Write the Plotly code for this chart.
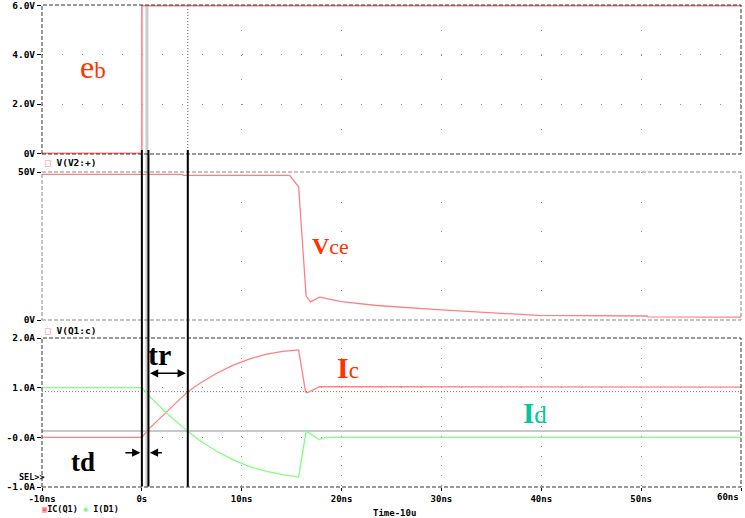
import plotly.graph_objects as go

# ---------------- data (time in ns) ----------------
t_eb = [-10, 0, 0, 60]
v_eb = [0, 0, 6, 6]

t_vce = [-10, 4.0, 4.2, 14.8, 15.7, 16.45, 16.9, 17.8, 20, 23.5, 30, 39.7, 50.6, 50.7, 60]
v_vce = [49.2, 49.2, 48.85, 48.85, 45.0, 8.1, 6.1, 7.7, 6.2, 4.9, 3.4, 1.55, 1.35, 1.05, 1.0]

t_ic = [-10, 0, 0.6, 2.4, 4.6, 5.75, 7.4, 9.1, 10.8, 12.4, 14.1, 15.7, 16.4, 16.6, 17.8, 60]
i_c = [0, 0, 0.15, 0.50, 0.92, 1.08, 1.28, 1.45, 1.58, 1.67, 1.73, 1.76, 0.91, 0.90, 1.02, 1.01]

t_id = [-10, 0, 0.6, 2.4, 4.6, 5.75, 7.4, 9.1, 10.8, 12.4, 14.1, 15.7, 16.45, 17.7, 18.5, 60]
i_d = [1.0, 1.0, 0.86, 0.50, 0.12, -0.06, -0.27, -0.45, -0.59, -0.68, -0.75, -0.80, 0.13, -0.04, 0.0, 0.0]

x_ticks = [-10, 0, 10, 20, 30, 40, 50, 60]
x_ticktext = ["-10ns", "0s", "10ns", "20ns", "30ns", "40ns", "50ns", ""]
x_last_label = "60ns"
eb_ticks = [0, 2, 4, 6]
eb_ticktext = ["0V", "2.0V", "4.0V", "6.0V"]
vce_ticks = [0, 50]
vce_ticktext = ["0V", "50V"]
i_ticks = [-1, 0, 1, 2]
i_ticktext = ["-1.0A", "-0.0A", "1.0A", "2.0A"]

# cursor / annotation times and levels
cursor1_t = 0.51
cursor2_t = 4.6
cursor1_i = 0.13
cursor2_i = 0.92
mark_t = [0.0, 0.66, 4.6]

# ---------------- layout helpers ----------------
W, H = 745, 518
ML, MR, MT, MB = 42, 4, 5, 31
PW, PH = W - ML - MR, H - MT - MB


def px(x):
    return (x - ML) / PW


def py(y):
    return (H - MB - y) / PH


RED = "#ff8080"
GREEN = "#80ff80"
TXTRED = "#ff3300"
TXTGREEN = "#00c896"
MONO = dict(family="DejaVu Sans Mono", size=9.5, color="#000000", weight="bold")
MONOX = dict(family="DejaVu Sans Mono", size=9, color="#000000", weight="bold")
SERIF = "Liberation Serif"

fig = go.Figure()
fig.add_trace(go.Scatter(x=t_ic, y=i_c, mode="lines", line=dict(color=RED, width=1.3),
                         xaxis="x", yaxis="y", showlegend=False, hoverinfo="skip"))
fig.add_trace(go.Scatter(x=t_id, y=i_d, mode="lines", line=dict(color=GREEN, width=1.3),
                         xaxis="x", yaxis="y", showlegend=False, hoverinfo="skip"))
fig.add_trace(go.Scatter(x=t_vce, y=v_vce, mode="lines", line=dict(color=RED, width=1.3),
                         xaxis="x2", yaxis="y2", showlegend=False, hoverinfo="skip"))
fig.add_trace(go.Scatter(x=t_eb, y=v_eb, mode="lines", line=dict(color=RED, width=1.6),
                         xaxis="x3", yaxis="y3", showlegend=False, hoverinfo="skip"))

d3 = [0, py(338)]
d2 = [py(320), py(172)]
d1 = [py(154), 1.0]

xcommon = dict(range=[-10, 60], domain=[0, 1], zeroline=False, showline=False,
               tickvals=x_ticks, gridcolor="#909090", gridwidth=1, automargin=False)
ycommon = dict(zeroline=False, showline=False, ticks="outside", ticklen=4, automargin=False,
               tickcolor="#000000", tickfont=MONO, gridcolor="#909090", gridwidth=1)

fig.update_layout(
    width=W, height=H,
    margin=dict(l=ML, r=MR, t=MT, b=MB, pad=0),
    paper_bgcolor="white", plot_bgcolor="white",
    showlegend=False, hovermode=False,
    xaxis=dict(**xcommon, anchor="y", ticktext=x_ticktext, ticks="outside", ticklen=3,
               tickcolor="#000000", tickfont=MONOX,
               showgrid=True, griddash="1px,8.8px"),
    xaxis2=dict(**xcommon, anchor="y2", matches="x", showticklabels=False,
                showgrid=True, griddash="1px,28.6px"),
    xaxis3=dict(**xcommon, anchor="y3", matches="x", showticklabels=False,
                showgrid=True, griddash="1px,23.8px"),
    yaxis=dict(**ycommon, domain=d3, range=[-1, 2], tickvals=i_ticks, ticktext=i_ticktext,
               showgrid=True, griddash="1px,18.95px"),
    yaxis2=dict(**ycommon, domain=d2, range=[0, 50], tickvals=vce_ticks, ticktext=vce_ticktext,
                showgrid=False),
    yaxis3=dict(**ycommon, domain=d1, range=[-0.03, 6.03], tickvals=eb_ticks,
                ticktext=eb_ticktext, showgrid=True, griddash="1px,18.95px"),
)

shapes = []
# cursors (behind)
shapes.append(dict(type="line", xref="x", yref="paper", x0=cursor1_t, x1=cursor1_t, y0=0, y1=1,
                   line=dict(color="#cccccc", width=3), layer="below"))
shapes.append(dict(type="line", xref="x", yref="paper", x0=cursor2_t, x1=cursor2_t, y0=0, y1=1,
                   line=dict(color="#606060", width=1, dash="1px,2px"), layer="below"))
shapes.append(dict(type="line", xref="paper", yref="y", x0=0, x1=1, y0=cursor1_i, y1=cursor1_i,
                   line=dict(color="#c8c8c8", width=2), layer="below"))
shapes.append(dict(type="line", xref="paper", yref="y", x0=0, x1=1, y0=cursor2_i, y1=cursor2_i,
                   line=dict(color="#707070", width=1, dash="1px,2px"), layer="below"))
# panel borders
for (y0, y1), col in ((d1, "#333333"), (d2, "#888888"), (d3, "#333333")):
    shapes.append(dict(type="rect", xref="paper", yref="paper", x0=0, x1=1, y0=y0, y1=y1,
                       line=dict(color=col, width=1, dash="4px,2px"), layer="above"))
# black marker lines
for t in mark_t:
    shapes.append(dict(type="line", xref="x", yref="paper", x0=t, x1=t, y0=py(486.5), y1=py(150),
                       line=dict(color="#000000", width=2), layer="above"))
fig.update_layout(shapes=shapes)

ann = []


def label(x, y, text, size=10, color="#000", family="DejaVu Sans Mono", xanchor="center", weight="bold"):
    ann.append(dict(xref="paper", yref="paper", x=px(x), y=py(y), text=text, showarrow=False,
                    xanchor=xanchor, yanchor="middle",
                    font=dict(family=family, size=size, color=color, weight=weight)))


# last x tick label, right-aligned to its tick as in the original
ann.append(dict(xref="x", yref="paper", x=x_ticks[-1], y=py(490), text=x_last_label,
                showarrow=False, xanchor="right", yanchor="top", font=MONOX))

# legends
label(43, 163, '<span style="color:#ff8080">□</span> V(V2:+)', size=9.5, xanchor="left")
label(43, 330, '<span style="color:#ff8080">□</span> V(Q1:c)', size=9.5, xanchor="left")
label(40, 509, '<span style="color:#ff6060">▣</span>IC(Q1) <span style="color:#80ff80">◆</span> I(D1)',
      size=8.5, xanchor="left")
label(17, 477, "SEL&gt;&gt;", size=8.5, xanchor="left")
label(394, 513, "Time-10u", size=9)

# big labels
label(93, 67, 'e<span style="font-size:23px">b</span>', size=32, color=TXTRED, family=SERIF, weight="normal")
label(330, 246, '<b>V</b><span style="font-size:22px">ce</span>', size=24, color=TXTRED, family=SERIF, weight="normal")
label(348, 367, '<b>I</b><span style="font-size:23px">c</span>', size=30, color=TXTRED, family=SERIF, weight="normal")
label(535, 413, '<b>I</b><span style="font-size:25px">d</span>', size=29, color=TXTGREEN, family=SERIF, weight="normal")
label(159, 354, "tr", size=30, color="#000000", family=SERIF, weight="bold")
label(83, 462, "td", size=27, color="#000000", family=SERIF, weight="bold")


# arrows
def arrow(x_tail, x_head, yv, both=False):
    ann.append(dict(xref="x", yref="y", axref="x", ayref="y", x=x_head, y=yv, ax=x_tail, ay=yv,
                    text="", showarrow=True, arrowhead=2, arrowsize=1.1, arrowwidth=1.5,
                    arrowcolor="#000000", arrowside="end+start" if both else "end",
                    standoff=0, startstandoff=0))


arrow(0.66, 4.4, 1.29, both=True)
arrow(-1.8, -0.15, -0.31)
arrow(2.15, 0.8, -0.31)

fig.update_layout(annotations=ann)
fig.write_html(
    "out.html",
    config={"displayModeBar": False, "staticPlot": True},
    post_script="document.body.style.margin='0';document.body.style.padding='0';"
                "document.body.style.overflow='hidden';",
)
